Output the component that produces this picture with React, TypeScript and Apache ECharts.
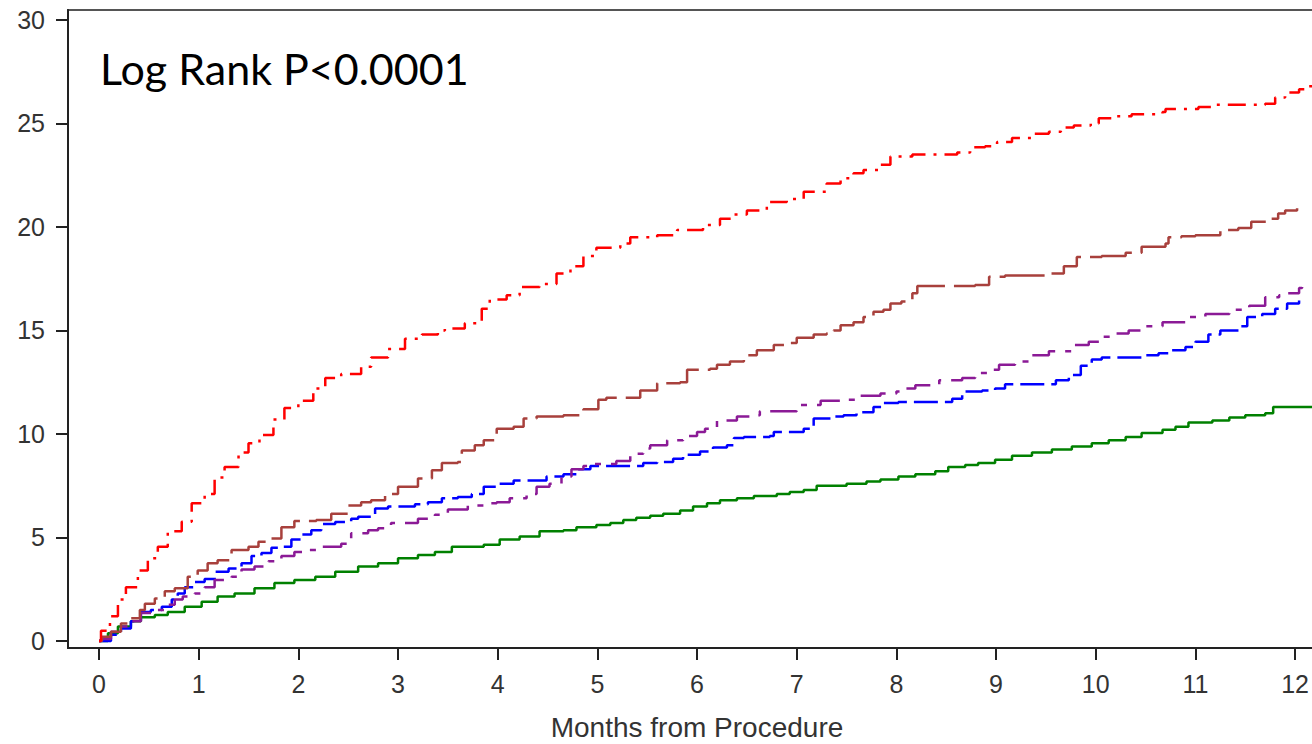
import React, { useEffect, useRef } from "react";
import * as echarts from "echarts";

const xTicks = [0, 1, 2, 3, 4, 5, 6, 7, 8, 9, 10, 11, 12];
const yTicks = [0, 5, 10, 15, 20, 25, 30];
const xTitle = "Months from Procedure";
const annotation = "Log Rank P<0.0001";

const redCurve = [[0,0],[0.02,0.5],[0.11,1.2],[0.19,2.0],[0.27,2.6],[0.39,3.4],[0.49,4.0],[0.59,4.55],[0.69,5.3],[0.83,5.76],[0.93,6.65],[1.06,7.1],[1.16,7.9],[1.26,8.4],[1.40,9.1],[1.50,9.55],[1.61,9.95],[1.75,10.7],[1.86,11.25],[2.0,11.6],[2.15,12.2],[2.27,12.7],[2.43,12.9],[2.63,13.25],[2.73,13.7],[2.90,14.1],[3.07,14.6],[3.24,14.8],[3.40,15.0],[3.47,15.1],[3.67,15.35],[3.84,16.05],[3.92,16.5],[4.09,16.7],[4.22,17.1],[4.42,17.25],[4.59,17.75],[4.73,18.1],[4.86,18.6],[4.99,19.0],[5.23,19.2],[5.33,19.5],[5.60,19.6],[5.80,19.85],[6.06,20.1],[6.23,20.4],[6.37,20.6],[6.50,20.8],[6.70,21.2],[6.90,21.35],[7.07,21.7],[7.30,22.1],[7.44,22.35],[7.57,22.6],[7.67,22.75],[7.84,23.0],[7.94,23.4],[8.16,23.5],[8.61,23.6],[8.74,23.85],[8.89,23.9],[9.01,24.1],[9.16,24.3],[9.36,24.5],[9.53,24.6],[9.65,24.8],[9.78,24.9],[9.95,25.0],[10.03,25.25],[10.2,25.35],[10.36,25.45],[10.67,25.55],[10.70,25.7],[11.03,25.8],[11.2,25.9],[11.70,25.95],[11.80,26.25],[11.9,26.5],[12.04,26.65],[12.14,26.8],[12.2,26.8]];

const brownCurve = [[0,0],[0.03,0.2],[0.12,0.45],[0.22,0.85],[0.32,1.1],[0.41,1.5],[0.46,1.8],[0.56,2.05],[0.66,2.4],[0.76,2.55],[0.89,3.1],[0.99,3.4],[1.09,3.75],[1.19,3.9],[1.33,4.4],[1.50,4.55],[1.60,4.8],[1.70,4.95],[1.83,5.5],[1.96,5.8],[2.18,5.85],[2.33,6.15],[2.50,6.55],[2.63,6.7],[2.73,6.8],[2.87,7.1],[3.0,7.45],[3.20,7.85],[3.34,8.25],[3.44,8.6],[3.60,8.65],[3.64,9.2],[3.77,9.45],[3.86,9.7],[3.99,10.25],[4.16,10.35],[4.26,10.75],[4.39,10.85],[4.66,10.9],[4.86,11.2],[5.01,11.65],[5.09,11.75],[5.43,12.1],[5.60,12.45],[5.83,12.5],[5.90,13.1],[6.13,13.15],[6.20,13.35],[6.33,13.5],[6.47,13.8],[6.60,14.05],[6.77,14.3],[6.90,14.4],[7.0,14.65],[7.17,14.8],[7.30,14.85],[7.37,15.0],[7.44,15.25],[7.57,15.4],[7.67,15.65],[7.77,15.9],[7.87,16.0],[7.94,16.3],[8.05,16.4],[8.16,16.8],[8.21,17.15],[8.79,17.2],[8.93,17.6],[9.09,17.65],[9.49,17.75],[9.68,18.1],[9.81,18.55],[10.06,18.6],[10.30,18.75],[10.46,19.05],[10.70,19.2],[10.73,19.5],[10.86,19.55],[11.0,19.6],[11.25,19.85],[11.43,19.95],[11.56,20.25],[11.73,20.4],[11.83,20.65],[11.90,20.8],[12.02,20.9]];

const blueCurve = [[0,0],[0.12,0.3],[0.22,0.6],[0.32,0.95],[0.42,1.4],[0.52,1.5],[0.63,1.65],[0.73,2.0],[0.79,2.3],[0.86,2.6],[0.96,2.85],[1.06,3.0],[1.16,3.35],[1.30,3.5],[1.43,3.75],[1.53,4.1],[1.63,4.25],[1.73,4.5],[1.83,4.55],[1.93,4.9],[2.03,5.15],[2.13,5.35],[2.23,5.65],[2.37,5.75],[2.53,5.9],[2.60,6.0],[2.77,6.4],[2.90,6.5],[3.17,6.6],[3.30,6.7],[3.44,6.9],[3.60,6.95],[3.74,7.1],[3.86,7.45],[3.99,7.6],[4.16,7.75],[4.49,7.95],[4.66,8.05],[4.79,8.3],[4.93,8.45],[5.46,8.6],[5.60,8.65],[5.76,8.8],[5.86,9.0],[6.03,9.15],[6.16,9.35],[6.30,9.45],[6.37,9.8],[6.47,9.85],[6.73,9.9],[6.77,10.1],[7.07,10.25],[7.17,10.75],[7.34,10.85],[7.47,10.9],[7.60,11.05],[7.77,11.3],[7.87,11.5],[8.02,11.55],[8.56,11.7],[8.66,12.05],[8.86,12.1],[8.99,12.2],[9.09,12.4],[9.60,12.6],[9.73,12.85],[9.85,13.3],[9.96,13.6],[10.06,13.7],[10.46,13.8],[10.63,13.9],[10.76,14.05],[10.90,14.2],[11.0,14.45],[11.13,14.8],[11.25,15.0],[11.45,15.2],[11.52,15.65],[11.67,15.8],[11.80,16.05],[11.92,16.3],[12.04,16.45]];

const purpleCurve = [[0,0],[0.02,0.1],[0.12,0.45],[0.22,0.7],[0.32,0.95],[0.42,1.35],[0.56,1.5],[0.66,1.75],[0.76,2.0],[0.84,2.15],[0.96,2.3],[1.06,2.6],[1.16,2.95],[1.33,3.1],[1.43,3.45],[1.56,3.6],[1.70,3.85],[1.83,4.1],[1.96,4.3],[2.10,4.4],[2.23,4.55],[2.43,4.7],[2.53,5.2],[2.70,5.35],[2.80,5.45],[2.93,5.7],[3.20,5.9],[3.37,6.1],[3.50,6.35],[3.70,6.55],[3.86,6.65],[3.99,6.7],[4.12,6.9],[4.29,7.1],[4.39,7.45],[4.52,7.6],[4.64,7.95],[4.74,8.3],[4.86,8.45],[4.96,8.55],[5.19,8.7],[5.33,9.05],[5.46,9.3],[5.53,9.45],[5.70,9.7],[5.86,9.9],[6.0,10.1],[6.08,10.25],[6.20,10.65],[6.40,10.85],[6.60,10.9],[6.63,11.1],[7.0,11.4],[7.24,11.6],[7.44,11.65],[7.60,11.85],[7.84,11.95],[8.0,12.05],[8.05,12.2],[8.19,12.35],[8.43,12.6],[8.66,12.7],[8.79,12.95],[8.93,13.1],[9.03,13.35],[9.19,13.5],[9.36,13.8],[9.53,14.0],[9.76,14.3],[9.93,14.45],[10.06,14.7],[10.16,14.85],[10.33,15.0],[10.5,15.2],[10.67,15.4],[10.90,15.65],[11.1,15.8],[11.34,16.0],[11.54,16.2],[11.7,16.6],[11.84,16.7],[11.92,16.8],[12.04,17.05],[12.07,17.1]];

const greenCurve = [[0,0],[0.09,0.37],[0.19,0.7],[0.32,0.95],[0.42,1.15],[0.56,1.25],[0.69,1.4],[0.86,1.65],[1.03,1.9],[1.19,2.15],[1.36,2.3],[1.56,2.55],[1.76,2.8],[1.96,2.95],[2.17,3.1],[2.37,3.35],[2.60,3.6],[2.80,3.75],[3.0,4.0],[3.20,4.15],[3.37,4.3],[3.54,4.55],[3.86,4.65],[4.02,4.9],[4.22,5.05],[4.42,5.3],[4.66,5.35],[4.79,5.5],[4.99,5.6],[5.13,5.7],[5.26,5.85],[5.39,5.95],[5.53,6.05],[5.66,6.15],[5.83,6.3],[5.96,6.5],[6.10,6.65],[6.23,6.8],[6.40,6.9],[6.57,7.0],[6.80,7.1],[6.93,7.2],[7.07,7.3],[7.20,7.5],[7.50,7.6],[7.70,7.7],[7.84,7.8],[8.02,7.95],[8.19,8.05],[8.39,8.2],[8.52,8.4],[8.69,8.5],[8.82,8.6],[8.99,8.75],[9.16,8.95],[9.36,9.1],[9.56,9.25],[9.76,9.4],[9.96,9.55],[10.13,9.7],[10.30,9.85],[10.46,10.05],[10.67,10.2],[10.80,10.35],[10.93,10.55],[11.17,10.65],[11.34,10.8],[11.50,10.9],[11.70,11.0],[11.78,11.3],[12.2,11.3]];

const tickFont = "Liberation Sans, Arial, sans-serif";

export default function App() {
  const ref = useRef<HTMLDivElement>(null);
  useEffect(() => {
    const chart = echarts.init(ref.current!, null, { renderer: "svg" });
    const mk = (name: string, data: number[][], color: string, type: any) => ({
      name,
      type: "line",
      data,
      step: "end",
      symbol: "none",
      clip: true,
      lineStyle: { color, width: 2.5, type },
    });
    chart.setOption({
      animation: false,
      backgroundColor: "#ffffff",
      grid: {
        left: 68,
        top: 10,
        right: 0,
        bottom: 96,
        containLabel: false,
        outerBoundsMode: "none",
        show: true,
        borderColor: "#555",
        borderWidth: 2,
      },
      xAxis: {
        type: "value",
        min: -0.311,
        max: 12.31,
        splitLine: { show: false },
        axisLine: { onZero: false, lineStyle: { color: "#222", width: 2 } },
        axisTick: { customValues: xTicks, length: 12, lineStyle: { color: "#222", width: 2 } },
        axisLabel: { customValues: xTicks, margin: 23, fontSize: 25, color: "#333", fontFamily: tickFont },
        name: xTitle,
        nameLocation: "middle",
        nameGap: 65,
        nameTextStyle: { fontSize: 28, lineHeight: 28, color: "#333", fontFamily: tickFont },
      },
      yAxis: {
        type: "value",
        min: -0.338,
        max: 30.48,
        splitLine: { show: false },
        axisLine: { onZero: false, lineStyle: { color: "#222", width: 2 } },
        axisTick: { customValues: yTicks, length: 12, lineStyle: { color: "#222", width: 2 } },
        axisLabel: { customValues: yTicks, margin: 23, fontSize: 25, color: "#333", fontFamily: tickFont },
      },
      graphic: [
        {
          type: "text",
          left: 100,
          top: 47,
          style: {
            text: annotation,
            fontSize: 43,
            fontFamily: "Lato, 'Open Sans', sans-serif",
            fill: "#000",
          },
        },
      ],
      series: [
        mk("green", greenCurve, "#008000", "solid"),
        mk("blue", blueCurve, "#0000FF", [24, 7]),
        mk("purple", purpleCurve, "#8B1A96", [27, 10, 6, 10]),
        mk("brown", brownCurve, "#A8403C", [46, 9]),
        mk("red", redCurve, "#FF0000", [18, 8, 3, 8]),
      ],
    });
    return () => chart.dispose();
  }, []);
  return (
    <div
      ref={ref}
      style={{ position: "fixed", left: 0, top: 0, width: 1326, height: 744, background: "#fff" }}
    />
  );
}
